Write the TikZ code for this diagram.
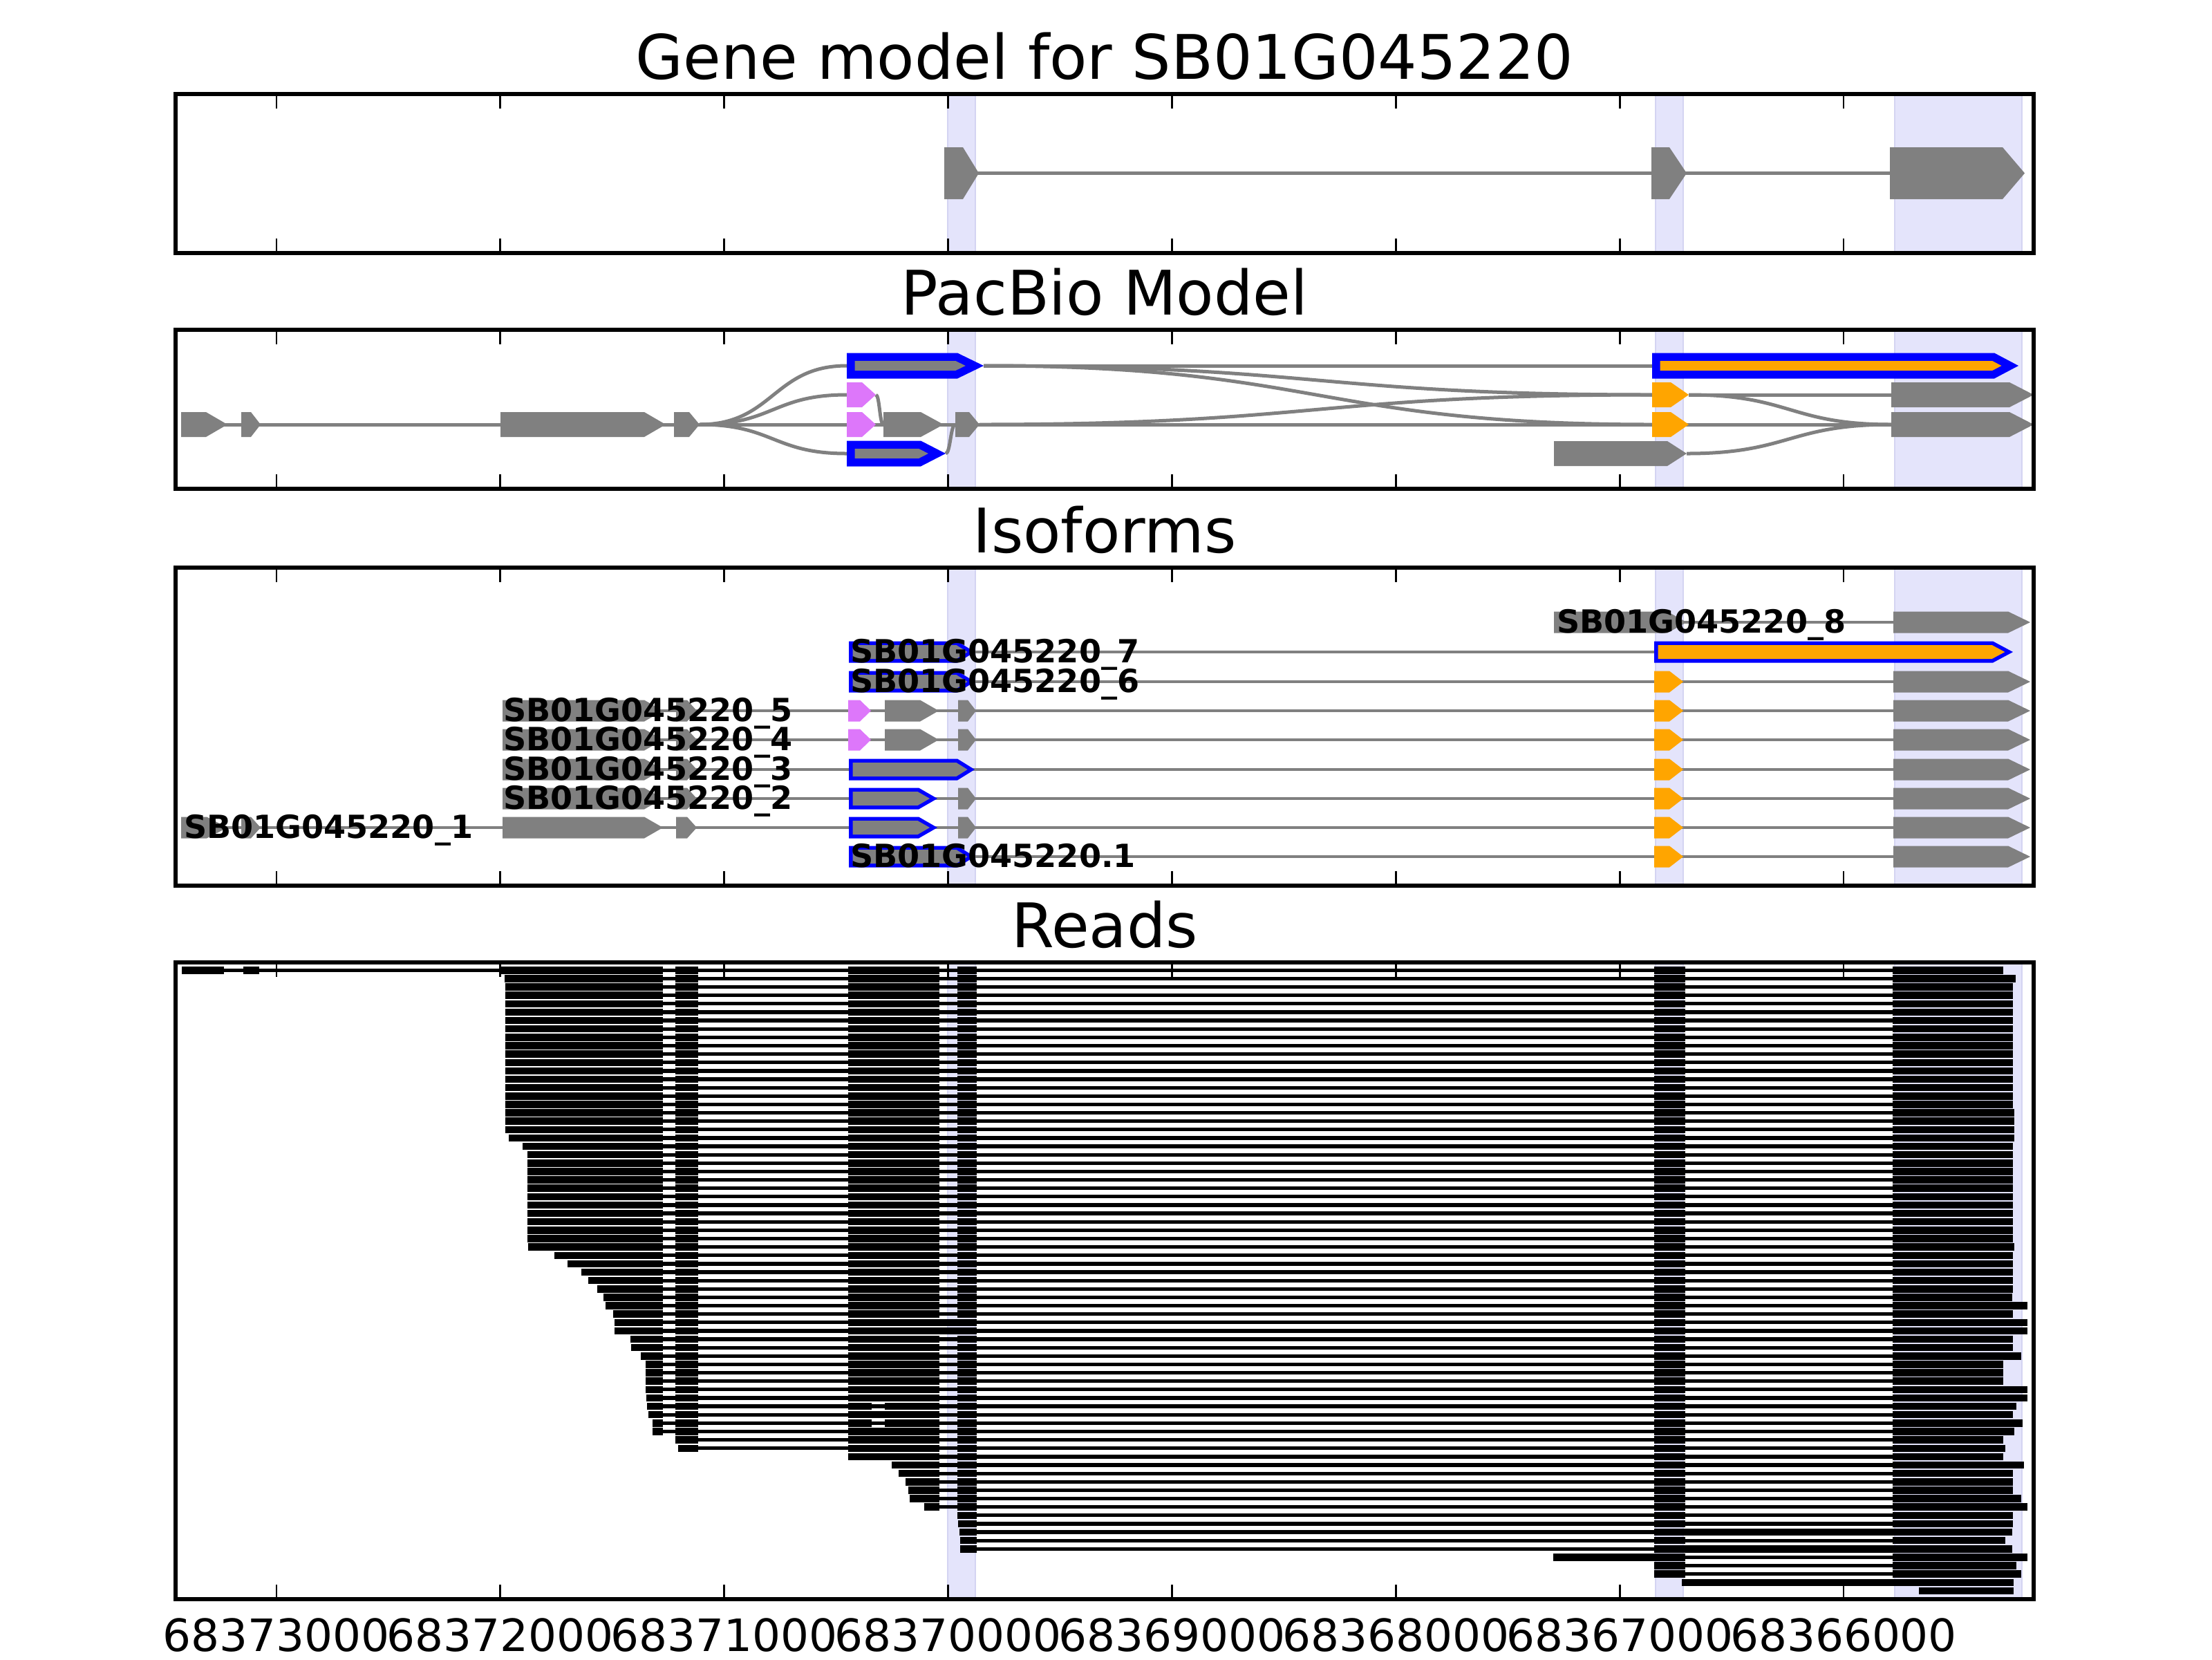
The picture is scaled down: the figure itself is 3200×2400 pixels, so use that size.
\documentclass[tikz,border=0pt]{standalone}
\usepackage{fontspec}
\setmainfont{DejaVu Sans}
\definecolor{exgray}{RGB}{128,128,128}
\definecolor{band}{RGB}{228,228,251}
\definecolor{bandedge}{RGB}{212,212,242}
\definecolor{exorange}{RGB}{255,165,0}
\definecolor{expink}{RGB}{221,119,250}
\definecolor{exblue}{RGB}{0,0,255}
\tikzset{
 axframe/.style={line width=1pt, draw=black},
 tickmark/.style={line width=0.5pt, draw=black},
 gmline/.style={draw=exgray, line width=1.0pt},
 pbline/.style={draw=exgray, line width=0.9pt},
 isoline/.style={draw=exgray, line width=0.8pt},
 readline/.style={draw=black, line width=0.95pt},
 ttl/.style={font=\fontsize{16.0}{19}\selectfont, anchor=base},
 ticklab/.style={font=\fontsize{11.6}{14}\selectfont, anchor=base},
 isolab/.style={font=\fontsize{8.3}{10}\selectfont\bfseries, anchor=base west, inner sep=0pt},
}
% exon arrow: colour, x0, x1, yc, h, tip
\newcommand{\exn}[6]{\fill[#1] (#2,{#4-#5/2}) -- ({#3-#6},{#4-#5/2}) -- (#3,#4) -- ({#3-#6},{#4+#5/2}) -- (#2,{#4+#5/2}) -- cycle;}
% outlined exon: outer col, inner col, x0, x1, yc, h, tip, edge
\newcommand{\oexn}[8]{%
 \exn{#1}{#3}{#4}{#5}{#6}{#7}%
 \pgfmathsetmacro\exia{#3+#8}%
 \pgfmathsetmacro\exib{#4-#8*sqrt(#7*#7+#6*#6/4)/(#6/2)}%
 \pgfmathsetmacro\exih{#6-2*#8}%
 \pgfmathsetmacro\extp{#7*(1-2*#8/#6)}%
 \exn{#2}{\exia}{\exib}{#5}{\exih}{\extp}}
\newcommand{\bands}[2]{\foreach \a/\b in {1371/1411,2395/2435,2741/2925} {\filldraw[fill=band,draw=bandedge,line width=0.3pt] (\a,#1) rectangle (\b,#2);}}
\newcommand{\axesbox}[2]{%
 \foreach \k in {0,...,7} {\pgfmathsetmacro\tkx{400+323.86*\k}
  \draw[tickmark] (\tkx,#1) -- (\tkx,{#1+21});
  \draw[tickmark] (\tkx,#2) -- (\tkx,{#2-21});}
 \draw[axframe] (254,#1) rectangle (2942,#2);}
\newcommand{\readrow}[4]{%
 \pgfmathsetmacro\rdy{1403.3+12.13*#1}%
 \draw[readline] (#2,\rdy) -- (#3,\rdy);%
 \edef\rdlist{#4}%
 \foreach \a/\b in \rdlist {\fill[black] (\a,{\rdy-5.25}) rectangle (\b,{\rdy+5.25});}%
}
\def\rtail{977/1010,1227/1359,1385/1413,2393/2438}
\newcommand{\isotail}[1]{\exn{exorange}{2393}{2435}{#1}{31}{20}\exn{exgray}{2739}{2937}{#1}{31}{32}}
\begin{document}
\begin{tikzpicture}[x=0.18pt,y=-0.18pt]
\fill[white] (0,0) rectangle (3200,2400);
\useasboundingbox (0,0) rectangle (3200,2400);

% ---------------- Gene model ----------------
\node[ttl] (t1) at (1598,114) {Gene model for SB01G045220};
\bands{136}{366}
\draw[gmline] (1366,250.5) -- (2734,250.5);
\exn{exgray}{1366}{1416}{250.5}{75}{23}
\exn{exgray}{2389}{2440}{250.5}{75}{25}
\exn{exgray}{2734}{2929}{250.5}{75}{32}
\axesbox{136}{366}

% ---------------- PacBio ----------------
\node[ttl] (t2) at (1598,455) {PacBio Model};
\bands{477}{707}
\draw[pbline] (262,614) -- (2736,614);
\draw[pbline] (1423,529) -- (2390,529);
\draw[pbline] (2443,571) -- (2736,571);
\draw[pbline] (1012,614) .. controls (1118.5,614) and (1118.5,529) .. (1225,529);
\draw[pbline] (1012,614) .. controls (1118.5,614) and (1118.5,571) .. (1225,571);
\draw[pbline] (1012,614) .. controls (1118.5,614) and (1118.5,656) .. (1225,656);
\draw[pbline] (1267,571) .. controls (1272.5,571) and (1272.5,614) .. (1278,614);
\draw[pbline] (1368,656) .. controls (1375,656) and (1375,614) .. (1382,614);
\draw[pbline] (1423,529) .. controls (1906.5,529) and (1906.5,571) .. (2390,571);
\draw[pbline] (1423,529) .. controls (1906.5,529) and (1906.5,614) .. (2390,614);
\draw[pbline] (1417,614) .. controls (1903.5,614) and (1903.5,571) .. (2390,571);
\draw[pbline] (2443,571) .. controls (2589.5,571) and (2589.5,614) .. (2736,614);
\draw[pbline] (2440,656) .. controls (2588,656) and (2588,614) .. (2736,614);
% row C
\exn{exgray}{262}{329}{614}{36}{31}
\exn{exgray}{349}{377}{614}{36}{14}
\exn{exgray}{724}{963}{614}{36}{31}
\exn{exgray}{975}{1012}{614}{36}{15}
\exn{expink}{1225}{1267}{614}{36}{20}
\exn{exgray}{1278}{1365}{614}{36}{33}
\exn{exgray}{1382}{1417}{614}{36}{15}
\exn{exorange}{2390}{2443}{614}{36}{26}
\exn{exgray}{2736}{2942}{614}{36}{35}
% row B
\exn{expink}{1225}{1267}{571}{36}{20}
\exn{exorange}{2390}{2443}{571}{36}{26}
\exn{exgray}{2736}{2942}{571}{36}{35}
% row A
\oexn{exblue}{exgray}{1225}{1423}{529}{37}{38}{11.5}
\oexn{exblue}{exorange}{2390}{2920}{529}{37}{35}{11.5}
% row D
\oexn{exblue}{exgray}{1225}{1368}{656}{37}{36}{11.5}
\exn{exgray}{2248}{2440}{656}{36}{28}
\axesbox{477}{707}

% ---------------- Isoforms ----------------
\node[ttl] (t3) at (1598,799) {Isoforms};
\bands{821}{1281}
% _8
\draw[isoline] (2248,900) -- (2739,900);
\exn{exgray}{2248}{2440}{900}{31}{28}
\exn{exgray}{2739}{2937}{900}{31}{32}
% _7
\draw[isoline] (1228,943) -- (2393,943);
\oexn{exblue}{exgray}{1228}{1410}{943}{31}{25}{5.5}
\oexn{exblue}{exorange}{2393}{2912}{943}{31}{29}{5.5}
% _6
\draw[isoline] (1228,986) -- (2739,986);
\oexn{exblue}{exgray}{1228}{1410}{986}{31}{25}{5.5}
\isotail{986}
% _5 and _4
\foreach \yy in {1028,1070} {
 \draw[isoline] (727,\yy) -- (2739,\yy);
 \exn{exgray}{727}{959}{\yy}{31}{27}
 \exn{exgray}{978}{1008}{\yy}{31}{14}
 \exn{expink}{1227}{1260}{\yy}{31}{16}
 \exn{exgray}{1280}{1358}{\yy}{31}{27}
 \exn{exgray}{1386}{1412}{\yy}{31}{12}
 \isotail{\yy}
}
% _3
\draw[isoline] (727,1113) -- (2739,1113);
\exn{exgray}{727}{959}{1113}{31}{27}
\exn{exgray}{978}{1008}{1113}{31}{14}
\oexn{exblue}{exgray}{1228}{1410}{1113}{31}{25}{5.5}
\isotail{1113}
% _2
\draw[isoline] (727,1155) -- (2739,1155);
\exn{exgray}{727}{959}{1155}{31}{27}
\exn{exgray}{978}{1008}{1155}{31}{14}
\oexn{exblue}{exgray}{1228}{1356}{1155}{31}{27}{5.5}
\exn{exgray}{1386}{1412}{1155}{31}{12}
\isotail{1155}
% _1
\draw[isoline] (262,1197) -- (2739,1197);
\exn{exgray}{262}{329}{1197}{31}{30}
\exn{exgray}{349}{377}{1197}{31}{14}
\exn{exgray}{727}{959}{1197}{31}{27}
\exn{exgray}{978}{1008}{1197}{31}{14}
\oexn{exblue}{exgray}{1228}{1356}{1197}{31}{27}{5.5}
\exn{exgray}{1386}{1412}{1197}{31}{12}
\isotail{1197}
% .1
\draw[isoline] (1228,1239) -- (2739,1239);
\oexn{exblue}{exgray}{1228}{1410}{1239}{31}{25}{5.5}
\isotail{1239}
% labels
\node[isolab] (l8) at (2251,915.5) {SB01G045220\_8};
\node[isolab] (l7) at (1229,958.5) {SB01G045220\_7};
\node[isolab] (l6) at (1229,1001.5) {SB01G045220\_6};
\node[isolab] (l5) at (727,1043.5) {SB01G045220\_5};
\node[isolab] (l4) at (727,1085.5) {SB01G045220\_4};
\node[isolab] (l3) at (727,1128.5) {SB01G045220\_3};
\node[isolab] (l2) at (727,1170.5) {SB01G045220\_2};
\node[isolab] (l1) at (265,1212.5) {SB01G045220\_1};
\node[isolab] (l0) at (1229,1254.5) {SB01G045220.1};
\axesbox{821}{1281}

% ---------------- Reads ----------------
\node[ttl] (t4) at (1598,1370) {Reads};
\bands{1392}{2313}
\readrow{0}{263}{2898}{263/324,352/375,724/959,\rtail,2738/2898}
\readrow{1}{730}{2916}{730/959,\rtail,2738/2916}
\foreach \i in {2,...,16} {\readrow{\i}{731}{2912}{731/959,\rtail,2738/2912}}
\foreach \i in {17,18,19} {\readrow{\i}{731}{2914}{731/959,\rtail,2738/2914}}
\readrow{20}{736}{2914}{736/959,\rtail,2738/2914}
\readrow{21}{756}{2912}{756/959,\rtail,2738/2912}
\foreach \i in {22,...,32} {\readrow{\i}{763}{2912}{763/959,\rtail,2738/2912}}
\readrow{33}{764}{2914}{764/959,\rtail,2738/2914}
\readrow{34}{802}{2912}{802/959,\rtail,2738/2912}
\readrow{35}{821}{2912}{821/959,\rtail,2738/2912}
\readrow{36}{841}{2912}{841/959,\rtail,2738/2912}
\readrow{37}{851}{2912}{851/959,\rtail,2738/2912}
\readrow{38}{864}{2912}{864/959,\rtail,2738/2912}
\readrow{39}{873}{2911}{873/959,\rtail,2738/2911}
\readrow{40}{876}{2933}{876/959,\rtail,2738/2933}
\readrow{41}{887}{2912}{887/959,\rtail,2738/2912}
\readrow{42}{889}{2933}{889/959,977/1010,1227/1413,2393/2438,2738/2933}
\readrow{43}{889}{2933}{889/959,977/1010,1227/1413,2393/2438,2738/2933}
\readrow{44}{912}{2912}{912/959,\rtail,2738/2912}
\readrow{45}{913}{2912}{913/959,\rtail,2738/2912}
\readrow{46}{927}{2924}{927/959,\rtail,2738/2924}
\foreach \i in {47,48,49} {\readrow{\i}{934}{2898}{934/959,\rtail,2738/2898}}
\readrow{50}{934}{2933}{934/959,\rtail,2738/2933}
\readrow{51}{935}{2933}{935/959,\rtail,2738/2933}
\readrow{52}{936}{2917}{936/959,977/1010,1227/1261,1280/1359,1385/1413,2393/2438,2738/2917}
\readrow{53}{938}{2912}{938/959,\rtail,2738/2912}
\readrow{54}{944}{2926}{944/959,977/1010,1227/1261,1280/1359,1385/1413,2393/2438,2738/2926}
\readrow{55}{944}{2914}{944/959,\rtail,2738/2914}
\readrow{56}{977}{2898}{977/1010,1227/1359,1385/1413,2393/2438,2738/2898}
\readrow{57}{981}{2901}{981/1010,1227/1359,1385/1413,2393/2438,2738/2901}
\readrow{58}{1227}{2898}{1227/1359,1385/1413,2393/2438,2738/2898}
\readrow{59}{1290}{2928}{1290/1359,1385/1413,2393/2438,2738/2928}
\readrow{60}{1300}{2912}{1300/1359,1385/1413,2393/2438,2738/2912}
\readrow{61}{1310}{2912}{1310/1359,1385/1413,2393/2438,2738/2912}
\readrow{62}{1314}{2912}{1314/1359,1385/1413,2393/2438,2738/2912}
\readrow{63}{1316}{2924}{1316/1359,1385/1413,2393/2438,2738/2924}
\readrow{64}{1337}{2933}{1337/1359,1385/1413,2393/2438,2738/2933}
\readrow{65}{1385}{2912}{1385/1413,2393/2438,2738/2912}
\readrow{66}{1386}{2912}{1386/1413,2393/2438,2738/2912}
\readrow{67}{1388}{2911}{1388/1413,2393/2911}
\readrow{68}{1389}{2901}{1389/1413,2393/2438,2738/2901}
\readrow{69}{1389}{2911}{1389/1413,2393/2911}
\readrow{70}{2247}{2933}{2247/2438,2738/2933}
\readrow{71}{2393}{2917}{2393/2438,2738/2917}
\readrow{72}{2393}{2924}{2393/2438,2738/2924}
\readrow{73}{2433}{2913}{2433/2913}
\readrow{74}{2776}{2913}{2776/2913}
\axesbox{1392}{2313}

% tick labels
\foreach \k/\lab in {0/68373000,1/68372000,2/68371000,3/68370000,4/68369000,5/68368000,6/68367000,7/68366000} {
 \pgfmathsetmacro\tkx{400+323.86*\k}
 \node[ticklab] (tl\k) at (\tkx,2388) {\lab};
}
\end{tikzpicture}
\end{document}
